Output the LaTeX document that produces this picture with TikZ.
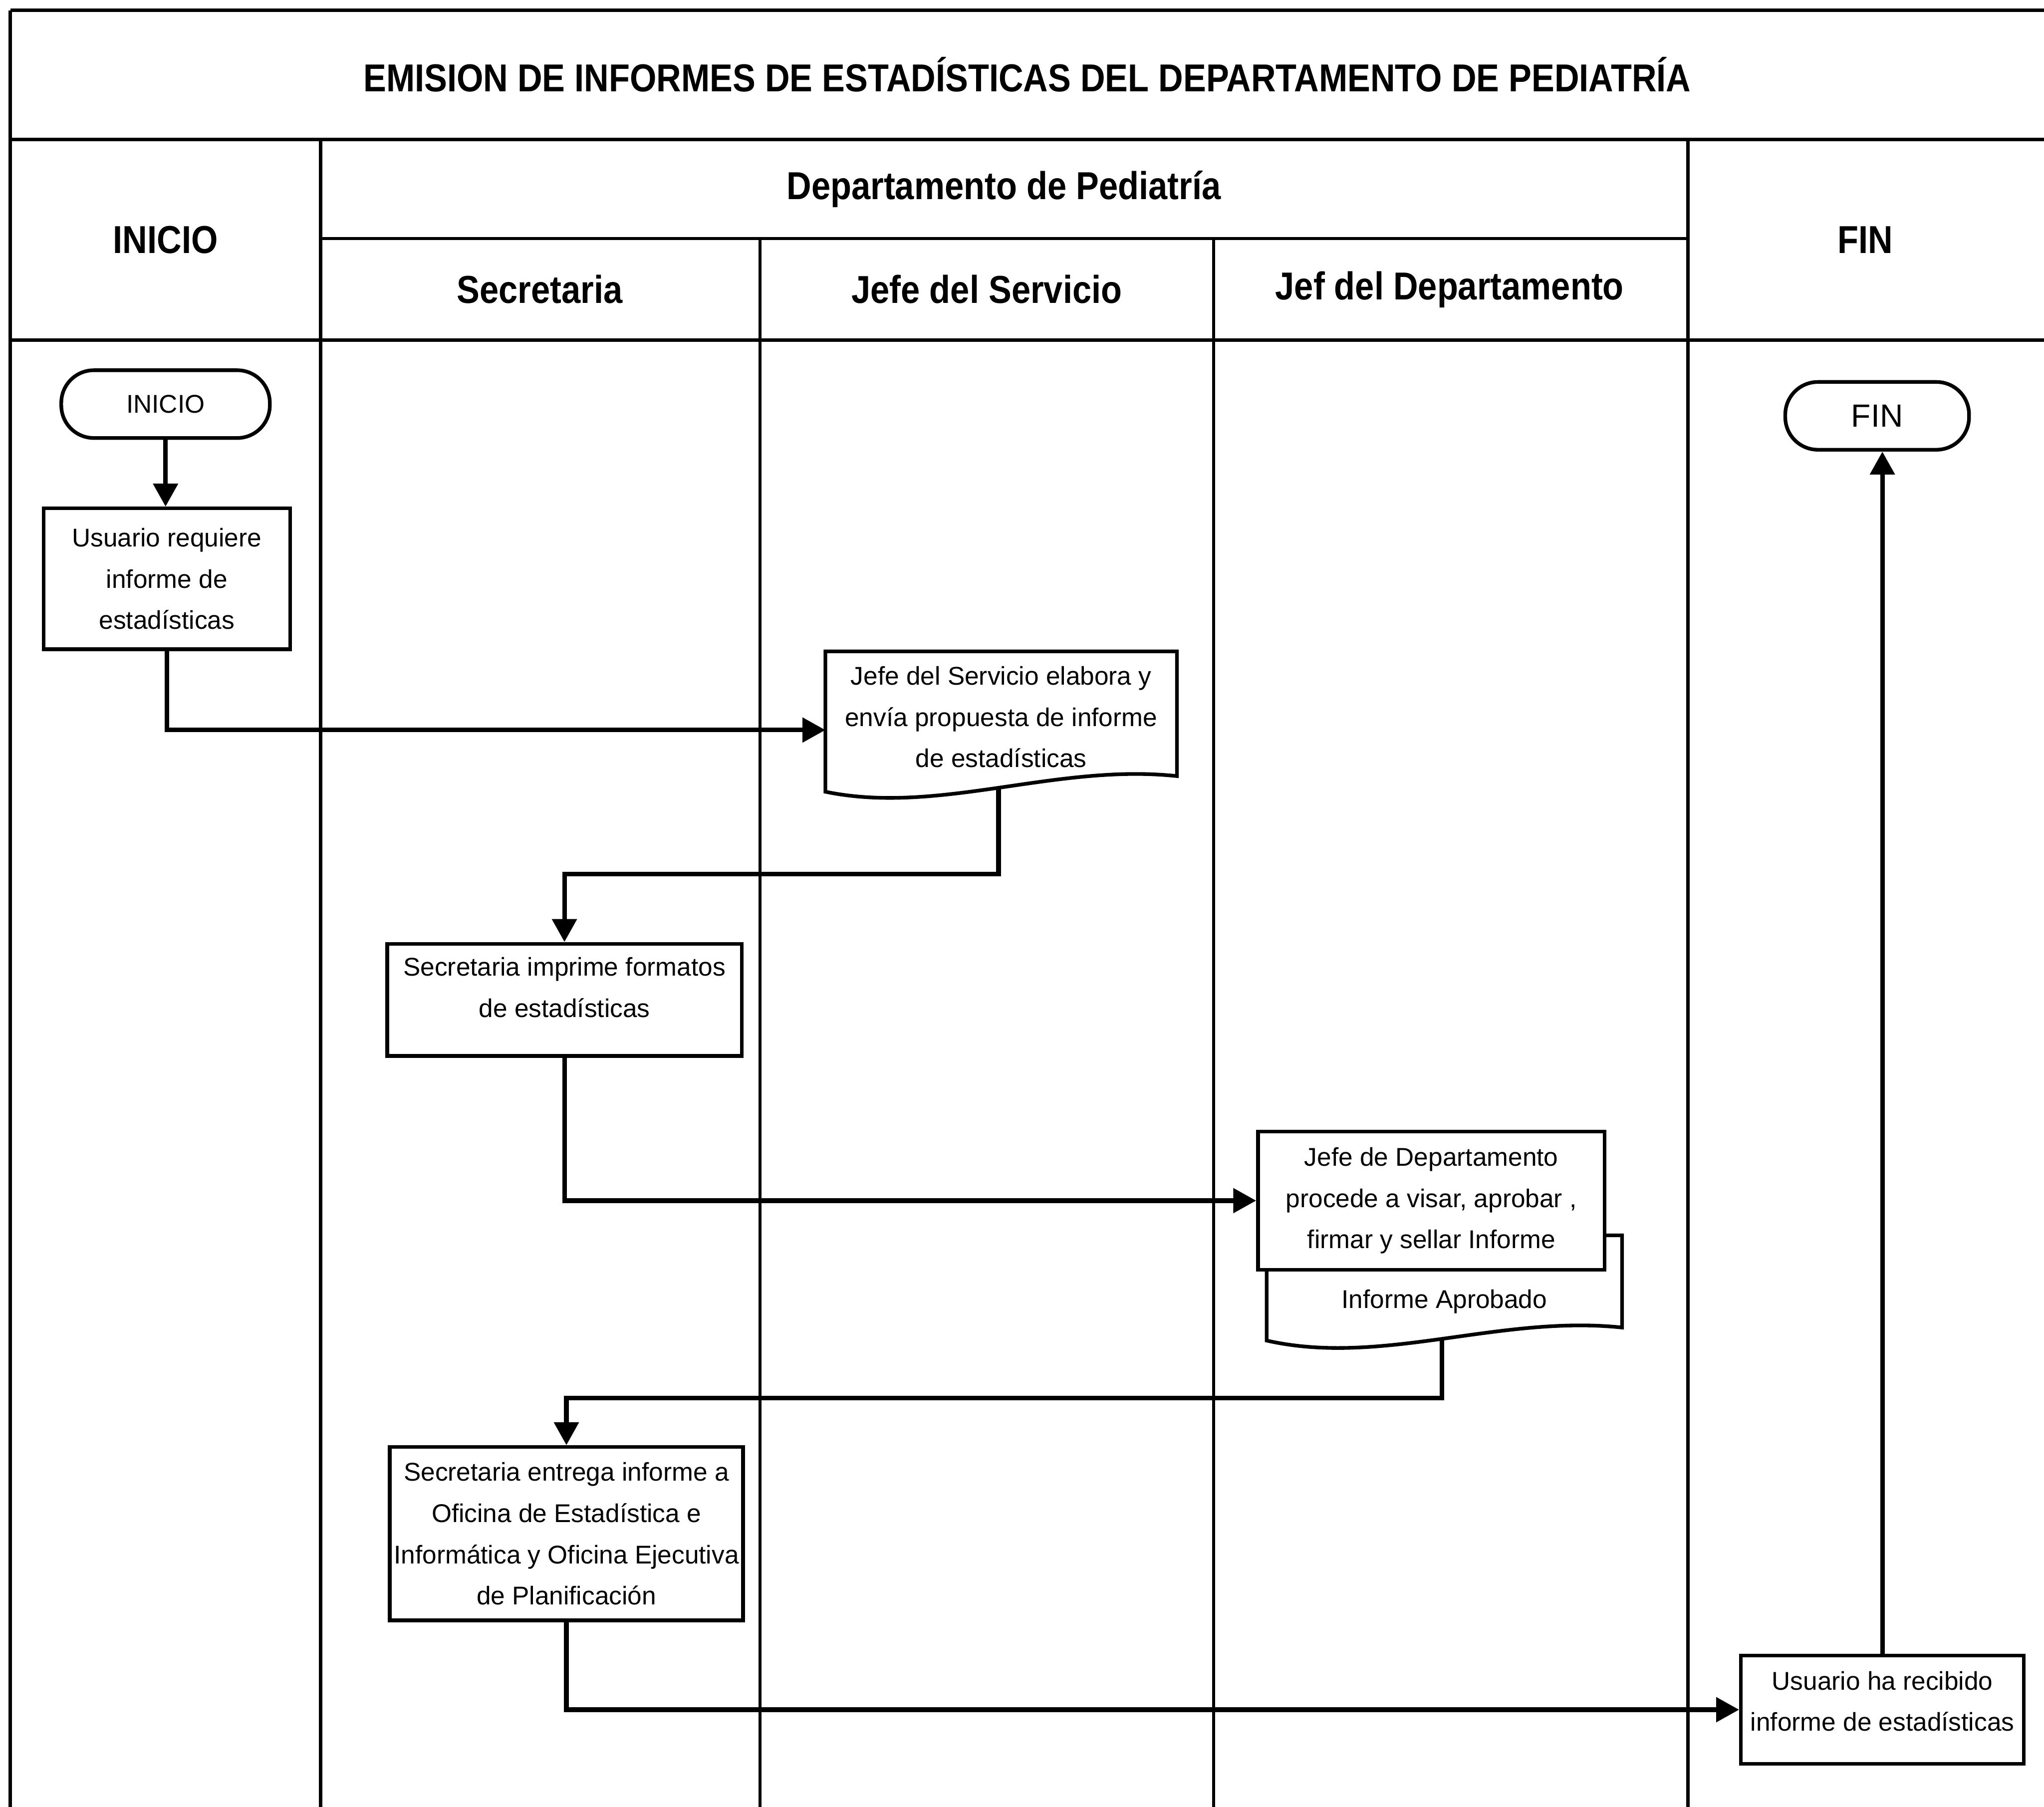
\documentclass[tikz,border=0pt]{standalone}
\usepackage{fontspec}
\setmainfont{Liberation Sans}
\newfontfamily\headfont[FakeStretch=0.88]{Liberation Sans}
\usetikzlibrary{arrows.meta, positioning, calc}

\tikzset{
    tabline/.style={line width=1.5pt},
    boxline/.style={line width=1.6pt, fill=white},
    hdr/.style={font=\headfont\bfseries\fontsize{17}{20}\selectfont},
    procbox/.style={draw, fill=white, line width=1.6pt, align=center, inner sep=0pt, font=\fontsize{11.2}{18}\selectfont},
    docbox/.style={align=center, inner sep=0pt, font=\fontsize{11.2}{18}\selectfont},
    term/.style={draw, line width=1.6pt, rounded corners=0.5cm, inner sep=0pt, minimum height=1.04cm, font=\fontsize{11.2}{13}\selectfont},
    flow/.style={line width=2pt, -{Triangle[width=10.5pt,length=10pt]}},
}

\begin{document}
\begin{tikzpicture}[x=0.02cm, y=-0.02cm]
    \useasboundingbox (0,0) rectangle (1568,1386);

    % table frame and lanes
    \draw[tabline] (8,8) -- (1568,8);
    \draw[tabline] (8,107) -- (1568,107);
    \draw[tabline] (246,183) -- (1295,183);
    \draw[tabline] (8,261) -- (1568,261);
    \draw[tabline] (8,8) -- (8,1386);
    \foreach \x in {246,1295} \draw[tabline] (\x,107) -- (\x,1386);
    \foreach \x in {583,931} \draw[tabline] (\x,183) -- (\x,1386);

    % headers
    \node[hdr] (title) at (788,57) {EMISION DE INFORMES DE ESTADÍSTICAS DEL DEPARTAMENTO DE PEDIATRÍA};
    \node[hdr] (hdep) at (770,145) {Departamento de Pediatría};
    \node[hdr] (hinicio) at (127,184) {INICIO};
    \node[hdr] (hfin) at (1431,184) {FIN};
    \node[hdr] (hsec) at (414,222) {Secretaria};
    \node[hdr] (hjserv) at (757,222) {Jefe del Servicio};
    \node[hdr] (hjdep) at (1112,222) {Jef del Departamento};

    % process
    \node[term, minimum width=3.2cm] (inicio) at (127,310) {INICIO};
    \node[procbox, minimum width=3.78cm, minimum height=2.16cm] (usuario) at (128,444) {Usuario requiere\\informe de\\estadísticas};

    \node[docbox, minimum width=5.38cm, minimum height=2cm] (jserv) at (768,550) {};
    \draw[boxline] (jserv.north west) -- (jserv.north east) -- ($(jserv.south east)+(0,-5)$)
        .. controls ($(jserv.south)+(42,-15)$) and ($(jserv.south)+(-48,25)$) .. ($(jserv.south west)+(0,7)$) -- cycle;
    \node[docbox] (jservtxt) at (jserv) {Jefe del Servicio elabora y\\envía propuesta de informe\\de estadísticas};
    \coordinate (jserv-out) at ($(jserv.south)+(-2,4)$);

    \node[procbox, minimum width=5.44cm, minimum height=1.72cm, text depth=11pt] (simprime) at (433,767) {Secretaria imprime formatos\\de estadísticas};

    \node[docbox, minimum width=5.44cm, minimum height=0.98cm] (iaprob) at (1108,998.5) {};
    \draw[boxline] ($(iaprob.north west)+(0,-26)$) -- ($(iaprob.north east)+(0,-26)$) -- ($(iaprob.south east)+(0,-5)$)
        .. controls ($(iaprob.south)+(42,-15)$) and ($(iaprob.south)+(-48,25)$) .. ($(iaprob.south west)+(0,5)$) -- cycle;
    \node[docbox] (iaprobtxt) at (iaprob) {Informe Aprobado};
    \coordinate (iaprob-out) at ($(iaprob.south)+(-2,4)$);

    \node[procbox, minimum width=5.32cm, minimum height=2.12cm] (jdep) at (1098,921) {Jefe de Departamento\\procede a visar, aprobar ,\\firmar y sellar Informe};

    \node[procbox, minimum width=5.42cm, minimum height=2.66cm] (sentrega) at (434.5,1176.5) {Secretaria entrega informe a\\Oficina de Estadística e\\Informática y Oficina Ejecutiva\\de Planificación};
    \node[procbox, minimum width=4.34cm, minimum height=1.66cm, text depth=7.5pt] (usrecibe) at (1444,1311.5) {Usuario ha recibido\\informe de estadísticas};
    \node[term, minimum width=2.82cm, font=\fontsize{14}{16}\selectfont] (fin) at (1440,319) {FIN};

    % connectors
    \draw[flow] (inicio.south) -- (inicio.south |- usuario.north);
    \draw[flow] (usuario.south) |- ([yshift=-0.2cm]jserv.west);
    \draw[flow] (jserv-out) -- ++(0,66) -| (simprime.north);
    \draw[flow] (simprime.south) |- (jdep.west);
    \draw[flow] (iaprob-out) -- ++(0,45) -| (sentrega.north);
    \draw[flow] (sentrega.south) |- (usrecibe.west);
    \draw[flow] (usrecibe.north) -- (usrecibe.north |- fin.south);
\end{tikzpicture}
\end{document}
